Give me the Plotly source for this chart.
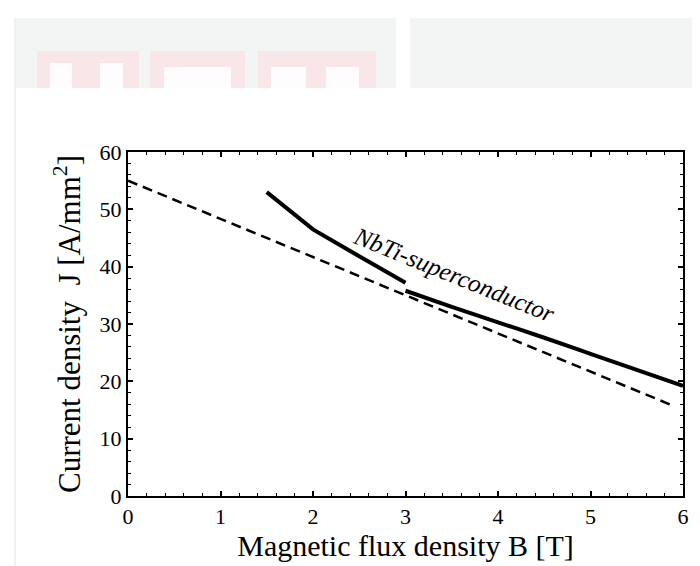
import plotly.graph_objects as go

# Data
nbti_b1 = [1.5, 2.0, 2.5, 3.0]
nbti_j1 = [53.0, 46.5, 41.8, 37.2]
nbti_b2 = [3.0, 3.5, 4.0, 4.5, 5.0, 5.5, 6.0]
nbti_j2 = [35.8, 33.0, 30.3, 27.6, 24.8, 22.0, 19.2]
lin_b = [0.0, 5.9]
lin_j = [55.0, 15.7]
x_ticks = [0, 1, 2, 3, 4, 5, 6]
y_ticks = [0, 10, 20, 30, 40, 50, 60]
label_text = "NbTi-superconductor"
label_pos = (3.52, 38.6)

FONT = "Liberation Serif, Times New Roman, serif"

T, B, L, R = 144, 78, 120, 25
PH = 566 - T - B
PW = 700 - L - R

fig = go.Figure()
fig.add_trace(go.Scatter(x=lin_b, y=lin_j, mode="lines",
                         line=dict(color="black", width=2.5, dash="10px,6px"),
                         showlegend=False))
fig.add_trace(go.Scatter(x=nbti_b1, y=nbti_j1, mode="lines",
                         line=dict(color="black", width=4), showlegend=False))
fig.add_trace(go.Scatter(x=nbti_b2, y=nbti_j2, mode="lines",
                         line=dict(color="black", width=4, shape="spline"), showlegend=False))

fig.add_annotation(x=label_pos[0], y=label_pos[1], text="<i>" + label_text + "</i>",
                   showarrow=False, textangle=22,
                   font=dict(family=FONT, size=25, color="black"))


def px(x):
    return (x - L) / PW


def py(y):
    return 1 + (T - y) / PH


# faint watermark band at the top
shapes = []
shapes.append(dict(type="rect", xref="paper", yref="paper", x0=px(7), x1=px(388),
                   y0=py(80), y1=py(10), fillcolor="#f3f4f4", line_width=0, layer="below"))
shapes.append(dict(type="rect", xref="paper", yref="paper", x0=px(402), x1=px(700),
                   y0=py(80), y1=py(10), fillcolor="#f3f4f4", line_width=0, layer="below"))
for (a, b) in [(29, 131), (142, 237), (250, 368)]:
    shapes.append(dict(type="rect", xref="paper", yref="paper", x0=px(a), x1=px(b),
                       y0=py(80), y1=py(43), fillcolor="#f8e6e9", line_width=0, layer="below"))
for (a, b, t) in [(42, 64, 55), (92, 115, 55), (156, 223, 59), (263, 298, 59), (318, 351, 59)]:
    shapes.append(dict(type="rect", xref="paper", yref="paper", x0=px(a), x1=px(b),
                       y0=py(80), y1=py(t), fillcolor="#fefcfc", line_width=0, layer="below"))
shapes.append(dict(type="line", xref="paper", yref="paper", x0=px(7), x1=px(7),
                   y0=py(560), y1=py(10), line=dict(color="#f0f0f0", width=2), layer="below"))
fig.update_layout(shapes=shapes)

axis_common = dict(showgrid=False, zeroline=False, showline=True, linecolor="black", linewidth=2,
                   mirror="ticks", ticks="inside", ticklen=5, tickwidth=1.5, tickcolor="black",
                   tickfont=dict(family=FONT, size=22, color="black"))
fig.update_xaxes(range=[0, 6], tickvals=x_ticks, ticktext=[str(v) for v in x_ticks],
                 minor=dict(ticks="inside", ticklen=3, dtick=0.2, tickcolor="black", tickwidth=1),
                 title=dict(text="Magnetic flux density B [T]", font=dict(family=FONT, size=30, color="black"),
                            standoff=0),
                 **axis_common)
fig.update_yaxes(range=[0, 60], tickvals=y_ticks, ticktext=[str(v) for v in y_ticks],
                 minor=dict(ticks="inside", ticklen=3, dtick=2, tickcolor="black", tickwidth=1),
                 title=dict(text="Current density  J [A/mm<sup>2</sup>]",
                            font=dict(family=FONT, size=31, color="black"), standoff=10),
                 **axis_common)

fig.update_layout(width=700, height=566, margin=dict(l=L, r=R, t=T, b=B),
                  paper_bgcolor="white", plot_bgcolor="white")

fig.write_html("out.html")
